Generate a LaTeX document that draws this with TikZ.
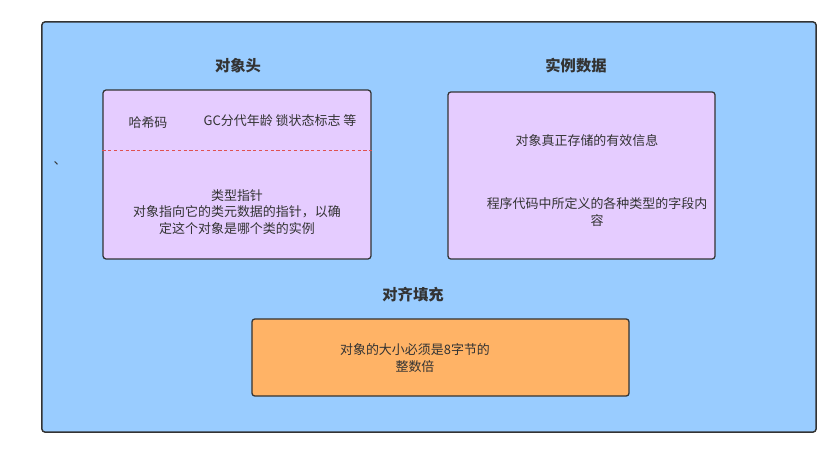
\documentclass[tikz,border=0pt]{standalone}
\usepackage{fontspec}
\setmainfont{Noto Sans CJK SC}
\usetikzlibrary{positioning}
\definecolor{sky}{HTML}{99CCFF}
\definecolor{lilac}{HTML}{E5CCFF}
\definecolor{apricot}{HTML}{FFB366}
\definecolor{ink}{HTML}{333333}
\definecolor{cut}{HTML}{E05050}
\begin{document}
\begin{tikzpicture}[
  x=0.3333mm, y=-0.3333mm, font=\fontsize{12.3}{15.5}\selectfont, text=ink,
  panel/.style={draw=ink, line width=1.4pt, rounded corners=1mm},
  part/.style={draw=ink, line width=1.2pt, rounded corners=1mm, fill=lilac},
  ttl/.style={font=\fontsize{14.5}{17}\selectfont\bfseries},
  txt/.style={align=center, inner sep=0pt},
  divider/.style={cut, line width=0.8pt, dash pattern=on 3pt off 2.5pt},
]
\useasboundingbox (0,0) rectangle (834,449);

% ===== outer object =====
\node[panel, fill=sky, minimum width=258mm, minimum height=136.7mm] (obj) at (429,227) {};
\node[txt] (tick) at (60,163) {、};

% ===== object header =====
\node[ttl] (hdrT) at (238,66) {对象头};
\node[part, minimum width=89.3mm, minimum height=56.3mm] (hdr) at (237,174.5) {};
\draw[divider] (hdr.west |- 0,150) -- (hdr.east |- 0,150);
\node[txt] (hash) at (148,123) {哈希码};
\node[txt] (mark) at (280,121) {GC分代年龄 锁状态标志 等};
\node[txt] (klass) at (237,212) {类型指针\\对象指向它的类元数据的指针，以确\\定这个对象是哪个类的实例};

% ===== instance data =====
\node[ttl] (dataT) at (576,66) {实例数据};
\node[part, minimum width=89mm, minimum height=55.7mm] (data) at (581.5,175.5) {};
\node[txt] (info) at (587,141) {对象真正存储的有效信息};
\node[txt] (field) at (597,212) {程序代码中所定义的各种类型的字段内\\容};

% ===== padding =====
\node[ttl] (padT) at (413,295) {对齐填充};
\node[draw=ink, line width=1.2pt, rounded corners=1mm, fill=apricot,
      minimum width=125.7mm, minimum height=25.7mm] (pad) at (440.5,357.5) {};
\node[txt] (align8) at (415,358) {对象的大小必须是8字节的\\整数倍};
\end{tikzpicture}
\end{document}
